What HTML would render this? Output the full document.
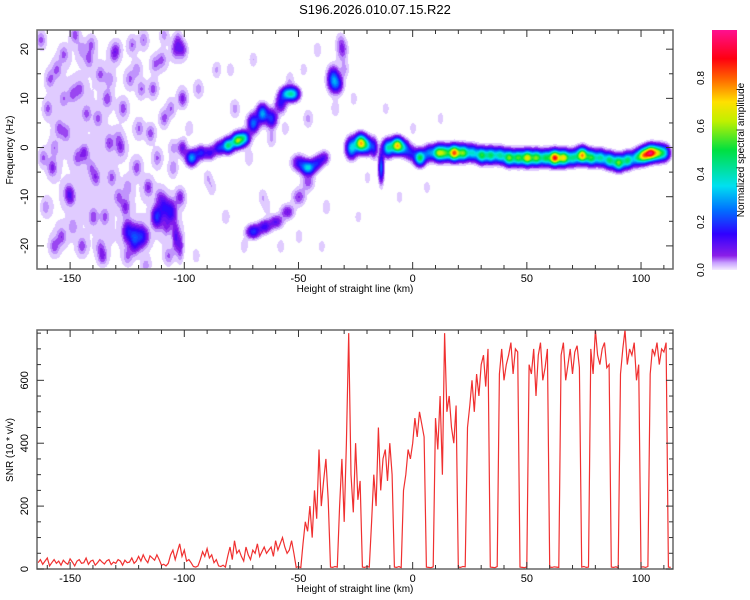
<!DOCTYPE html>
<html><head><meta charset="utf-8">
<style>
body{margin:0;background:#fff;font-family:"Liberation Sans",sans-serif;}
#wrap{position:relative;width:750px;height:600px;overflow:hidden;}
canvas,svg{position:absolute;left:0;top:0;}
</style></head>
<body>
<div id="wrap">
<canvas id="spec" width="750" height="600"></canvas>
<svg id="ov" width="750" height="600">
<defs>
<linearGradient id="cg" x1="0" y1="1" x2="0" y2="0">
<stop offset="0" stop-color="#f4ecff"/><stop offset="0.03" stop-color="#c8a0ff"/><stop offset="0.06" stop-color="#8a1ee8"/>
<stop offset="0.15" stop-color="#3000ff"/><stop offset="0.25" stop-color="#0070ff"/><stop offset="0.35" stop-color="#00e0f0"/>
<stop offset="0.5" stop-color="#00e040"/><stop offset="0.62" stop-color="#c0f000"/><stop offset="0.7" stop-color="#ffe000"/>
<stop offset="0.8" stop-color="#ff6000"/><stop offset="0.88" stop-color="#ff0010"/><stop offset="1" stop-color="#ff1090"/>
</linearGradient>
</defs>
</svg>
</div>
<script>
// ---- spectrogram features (km, Hz, amplitude, spread km, spread Hz)
const blobX=[-97,-93,-89,-85,-81,-77,-74,-70,-66,-62,-58,-55,-52,-50,-46,-42,-39,-35,-33,-31,-70,-65,-60,-55,-50,-46,
-27,-23,-20,-17,-14,-11,-7,-4,-1,3,7,11,14,18,22,26,30,34,38,42,46,50,54,58,62,66,70,74,78,82,86,90,94,98,101,104,107,110,
-125,-122,-119,-112,-109,-106,-104,-102];
const blobF=[-2,-1,-1,0,0.5,1.5,2,5,7,6,9,11,11,-3,-4,-3,-2,14,13,20,-17,-16,-15,-13,-10,-7,
0,1,0.5,0,-4,0,0.5,0,-1,-2,-1,-1,-1,-1,-1,-1,-1.5,-1.5,-1.5,-2,-2,-2,-2,-2,-2,-2,-2,-1.5,-2,-2,-2.5,-3,-2.5,-2,-1.5,-1,-1,-1,
-17,-18,-18,-14,-12,-13,-18,-20];
const blobA=[0.3,0.18,0.14,0.18,0.45,0.55,0.35,0.25,0.3,0.2,0.15,0.35,0.25,0.15,0.35,0.15,0.12,0.25,0.15,0.08,0.2,0.15,0.12,0.1,0.08,0.07,
0.35,0.7,0.3,0.15,0.25,0.4,0.7,0.25,0.15,0.5,0.25,0.55,0.45,0.8,0.55,0.35,0.5,0.45,0.4,0.55,0.5,0.65,0.55,0.45,0.85,0.65,0.4,0.75,0.5,0.4,0.45,0.55,0.45,0.35,0.65,0.8,0.5,0.35,
0.14,0.17,0.14,0.15,0.12,0.14,0.1,0.08];
const blobSX=[1.6,1.6,1.6,1.6,1.6,1.6,1.6,1.6,1.6,1.6,1.6,2,1.6,2,2,1.6,1.6,1.6,1.6,1.6,2,2,2,2,2,2,
1.6,1.6,1.6,1,0.8,1.6,1.6,1.6,1.6,1.6,1.6,1.6,1.6,1.6,1.6,1.6,1.6,1.6,1.6,1.6,1.6,1.6,1.6,1.6,1.6,1.6,1.6,1.6,1.6,1.6,1.6,1.6,1.6,1.6,1.6,1.6,1.6,1.6,
1.5,1.5,1.5,1.5,1.5,1.5,1,1];
const blobSF=[1,0.9,0.9,0.9,0.9,0.9,0.9,1.2,1.2,1.2,1.2,0.9,0.9,1,0.9,0.9,0.9,1.5,1.2,1.5,0.9,0.9,0.9,1,1.2,1.2,
1.3,1.1,1.1,1.3,2,1.1,1,1,1,1,1,1,1,1,1,1,1,1,1,1,1,1,1,1,1,1,1,1,1,1,1,1,1,1,1,1,1,1,
1.5,1.5,1.5,1.5,1.5,1.5,2,2];
// ---- background noise speckle (km, Hz, amplitude)
const noiseX=[-163,-160,-158,-156,-154,-152,-150,-148,-146,-144,-142,-140,-138,-136,-134,-132,-130,-128,-126,-124,-122,-120,-118,-116,-114,-112,-110,-108,-106,-104,
-162,-159,-157,-155,-153,-151,-149,-147,-145,-143,-141,-139,-137,-135,-133,-131,-129,-127,-125,-123,-121,-119,-117,-115,-113,-111,-109,-107,-105,-103,
-161,-157,-153,-149,-145,-141,-137,-133,-129,-125,-121,-117,-113,-109,-105,-101,-101,-101,-102,
-98,-94,-90,-86,-82,-78,-74,-70,-66,-62,-58,-54,-50,-46,-42,-38,-34,-30,-95,-88,-80,-72,-64,-56,-48,-40,-32,-26,-24,-20,-12,-6,0,6,12];
const noiseF=[22,8,-4,16,-18,3,-10,23,12,-1,18,-14,6,-22,10,-6,20,0,-12,14,-20,4,22,-8,12,-2,18,-16,8,20,
-2,14,-20,4,19,-9,11,-2,-20,7,21,-6,15,-14,1,19,-10,8,-22,21,-4,12,-18,3,17,-10,6,-22,-4,22,
-12,0,10,-16,20,-4,-20,14,2,-8,16,-24,-14,23,0,20,10,0,-10,
4,12,-6,16,-14,8,-20,18,-10,2,-20,14,-18,6,20,-12,8,16,-22,-8,16,-2,-12,4,16,-20,22,10,-14,-6,8,-10,4,-8,6];
const noiseA=[0.06,0.05,0.07,0.05,0.06,0.05,0.07,0.06,0.05,0.07,0.05,0.06,0.05,0.07,0.06,0.05,0.05,0.06,0.07,0.05,0.06,0.05,0.05,0.07,0.06,0.05,0.05,0.06,0.05,0.07,
0.05,0.05,0.06,0.05,0.05,0.06,0.05,0.05,0.06,0.05,0.05,0.06,0.05,0.05,0.06,0.05,0.05,0.06,0.05,0.05,0.06,0.05,0.05,0.06,0.05,0.05,0.06,0.05,0.05,0.06,
0.04,0.04,0.04,0.04,0.04,0.04,0.04,0.04,0.04,0.04,0.04,0.04,0.04,0.04,0.04,0.08,0.08,0.1,0.08,
0.035,0.04,0.035,0.04,0.035,0.04,0.035,0.04,0.035,0.04,0.035,0.04,0.035,0.04,0.035,0.04,0.035,0.04,0.03,0.03,0.03,0.03,0.03,0.03,0.03,0.03,0.03,0.03,0.03,0.03,0.03,0.03,0.03,0.03,0.03];
// ---- broad low-level haze (km, Hz, amplitude)
const hazeX=[-158,-158,-158,-158,-158,-146,-146,-146,-146,-146,-134,-134,-134,-134,-134,-122,-122,-122,-122,-122,-110,-110,-110,-110,-110,-102,-102,-90,-90,-80,-70,-60,-45,-35];
const hazeF=[20,10,0,-10,-20,20,10,0,-10,-20,20,10,0,-10,-20,20,10,0,-10,-20,20,10,0,-10,-20,15,-15,10,-12,8,0,-5,5,15];
const hazeA=[0.012,0.014,0.014,0.012,0.014,0.012,0.014,0.012,0.014,0.012,0.012,0.012,0.014,0.012,0.014,0.01,0.008,0.01,0.012,0.014,0.008,0.006,0.008,0.012,0.012,0.012,0.012,0.008,0.008,0.008,0.008,0.008,0.008,0.008];
// ---- SNR data, one value per km starting at snrStart
const snrStart=-164;
const snrVals=[20,30,15,25,35,10,20,30,18,25,
12,28,20,15,32,22,10,25,30,18,
20,35,15,25,28,12,20,30,22,16,
26,30,14,22,18,30,25,12,28,20,
22,35,18,25,40,25,45,30,20,42,
35,28,45,30,12,15,10,18,45,60,
30,55,80,40,60,25,30,20,8,6,
10,30,55,40,65,35,45,20,30,10,
8,12,6,40,70,30,90,50,60,40,
25,70,45,30,60,50,80,40,55,70,
50,60,70,40,90,60,80,100,70,50,
60,90,50,5,8,4,80,150,120,200,
100,250,160,380,200,280,350,220,6,5,
8,6,200,350,150,400,750,300,180,400,
220,280,6,5,8,6,150,300,200,450,
250,350,380,280,400,300,6,5,8,4,
250,300,380,350,400,480,420,500,460,420,
6,5,4,7,480,380,550,300,750,500,
550,450,400,520,6,5,8,7,450,520,
600,500,620,550,650,680,580,700,6,5,
4,8,620,700,600,650,680,720,620,700,
690,6,5,4,7,650,620,700,550,680,
720,600,640,700,6,5,7,6,5,680,
720,600,650,700,620,690,710,640,6,8,
5,6,700,620,760,680,650,700,720,640,
650,6,5,7,4,620,700,760,650,700,
680,720,600,650,6,7,5,8,620,700,
680,720,650,700,690,720,6,5];
// ---- axes
const xMin=-164.5,xMax=114;
const px0=37,px1=673;
const fMin=-24.7,fMax=23.9, py0=30,py1=269;
const sMin=0,sMax=760, sy0=330,sy1=569;
const xTicks=[-150,-100,-50,0,50,100];
const fTicks=[-20,-10,0,10,20];
const sTicks=[0,200,400,600];
const cTicks=[0,0.2,0.4,0.6,0.8];
const X=v=>px0+(v-xMin)/(xMax-xMin)*(px1-px0);
const F=v=>py1-(v-fMin)/(fMax-fMin)*(py1-py0);
const S=v=>sy1-(v-sMin)/(sMax-sMin)*(sy1-sy0);

const stops=[[0,[244,236,255]],[0.03,[214,186,255]],[0.05,[170,110,250]],[0.07,[138,30,232]],[0.15,[48,0,255]],[0.25,[0,112,255]],[0.35,[0,224,240]],[0.5,[0,224,64]],[0.62,[192,240,0]],[0.7,[255,224,0]],[0.8,[255,96,0]],[0.88,[255,0,16]],[1,[255,16,144]]];
function cmap(v){
  for(let i=1;i<stops.length;i++){ if(v<=stops[i][0]){const a=stops[i-1],b=stops[i];const t=(v-a[0])/(b[0]-a[0]);return a[1].map((c,k)=>c+(b[1][k]-c)*t);} }
  return stops[stops.length-1][1];
}
const cv=document.getElementById('spec');const ctx=cv.getContext('2d');
const W=px1-px0,H=py1-py0;
const field=new Float32Array(W*H);
const kmPerPx=(xMax-xMin)/W, hzPerPx=(fMax-fMin)/H;
function addBlob(bx,bf,ba,bsx,bsf){
  const cx=X(bx)-px0, cy=F(bf)-py0;
  const sx=bsx/kmPerPx, sy=bsf/hzPerPx;
  const x0=Math.max(0,Math.floor(cx-3*sx)),x1=Math.min(W-1,Math.ceil(cx+3*sx));
  const y0=Math.max(0,Math.floor(cy-3*sy)),y1=Math.min(H-1,Math.ceil(cy+3*sy));
  for(let y=y0;y<=y1;y++)for(let x=x0;x<=x1;x++){
    const dx=(x-cx)/sx,dy=(y-cy)/sy;
    field[y*W+x]+=ba*Math.exp(-(dx*dx+dy*dy)/2);
  }
}
for(let b=0;b<blobX.length;b++)addBlob(blobX[b],blobF[b],blobA[b],blobSX[b],blobSF[b]);
for(let b=0;b<noiseX.length;b++)addBlob(noiseX[b],noiseF[b],noiseA[b],1.4,1.2);
for(let b=0;b<hazeX.length;b++)addBlob(hazeX[b],hazeF[b],hazeA[b],6,5);
const img=ctx.createImageData(W,H);
for(let i=0;i<W*H;i++){
  let v=Math.min(1,field[i]);
  let c=[255,255,255];
  if(v>0.02){v=Math.floor(v*50)/50;c=cmap(v);}
  img.data[i*4]=c[0];img.data[i*4+1]=c[1];img.data[i*4+2]=c[2];img.data[i*4+3]=255;
}
ctx.putImageData(img,px0,py0);

const NS='http://www.w3.org/2000/svg';
const ov=document.getElementById('ov');
function mk(t,a,p){const e=document.createElementNS(NS,t);for(const k in a)e.setAttribute(k,a[k]);(p||ov).appendChild(e);return e;}
function txt(s,x,y,a){const e=mk('text',Object.assign({x:x,y:y,'font-size':11,'font-family':'Liberation Sans, sans-serif',fill:'#000'},a||{}));e.textContent=s;return e;}

const title=txt('S196.2026.010.07.15.R22',375,14,{'text-anchor':'middle','font-size':13});



let d='';
snrVals.forEach((v,i)=>{d+=(i?'L':'M')+X(snrStart+i).toFixed(1)+','+S(v).toFixed(1);});
const line=mk('path',{d:d,fill:'none',stroke:'#f03030','stroke-width':1.2});



function frame(y0,y1,name){
  const r=mk('rect',{x:px0,y:y0,width:px1-px0,height:y1-y0,fill:'none',stroke:'#666','stroke-width':1.5});
  
  
  for(let v=-160;v<=110;v+=10){const x=X(v);const big=v%50===0;
    mk('line',{x1:x,x2:x,y1:y1,y2:y1-(big?7:4),stroke:'#333'});mk('line',{x1:x,x2:x,y1:y0,y2:y0+(big?7:4),stroke:'#333'});}
  xTicks.forEach(v=>{const t=txt(String(v),X(v),y1+13,{'text-anchor':'middle'});
    
    });
  const xl=txt('Height of straight line (km)',355,y1+23,{'text-anchor':'middle','font-size':10});
  
  
}
frame(py0,py1,'spectrogram-frame');
frame(sy0,sy1,'snr-frame');
for(let v=-20;v<=20;v+=5){const y=F(v);mk('line',{x1:px0,x2:px0+(v%10===0?7:4),y1:y,y2:y,stroke:'#333'});mk('line',{x1:px1,x2:px1-(v%10===0?7:4),y1:y,y2:y,stroke:'#333'});}
fTicks.forEach(v=>{const y=F(v);const t=txt(String(v),28,y,{'text-anchor':'middle',transform:`rotate(-90 28 ${y})`});
  
  });
const yl1=txt('Frequency (Hz)',13,150,{'text-anchor':'middle','font-size':10,transform:'rotate(-90 13 150)'});


for(let v=0;v<=750;v+=50){const y=S(v);mk('line',{x1:px0,x2:px0+(v%200===0?7:4),y1:y,y2:y,stroke:'#333'});mk('line',{x1:px1,x2:px1-(v%200===0?7:4),y1:y,y2:y,stroke:'#333'});}
sTicks.forEach(v=>{const y=S(v);const t=txt(String(v),28,y,{'text-anchor':'middle',transform:`rotate(-90 28 ${y})`});
  
  });
const yl2=txt('SNR (10 * v/v)',13,450,{'text-anchor':'middle','font-size':10,transform:'rotate(-90 13 450)'});



const cb=mk('rect',{x:712,y:30,width:25,height:240,fill:'url(#cg)'});


cTicks.forEach(v=>{const y=270-v/1*240;const t=txt(v.toFixed(1),704,y,{'text-anchor':'middle','font-size':10,transform:`rotate(-90 704 ${y})`});
  
  });
const cl=txt('Normalized spectral amplitude',744,150,{'text-anchor':'middle','font-size':10,transform:'rotate(-90 744 150)'});


</script>
</body></html>
